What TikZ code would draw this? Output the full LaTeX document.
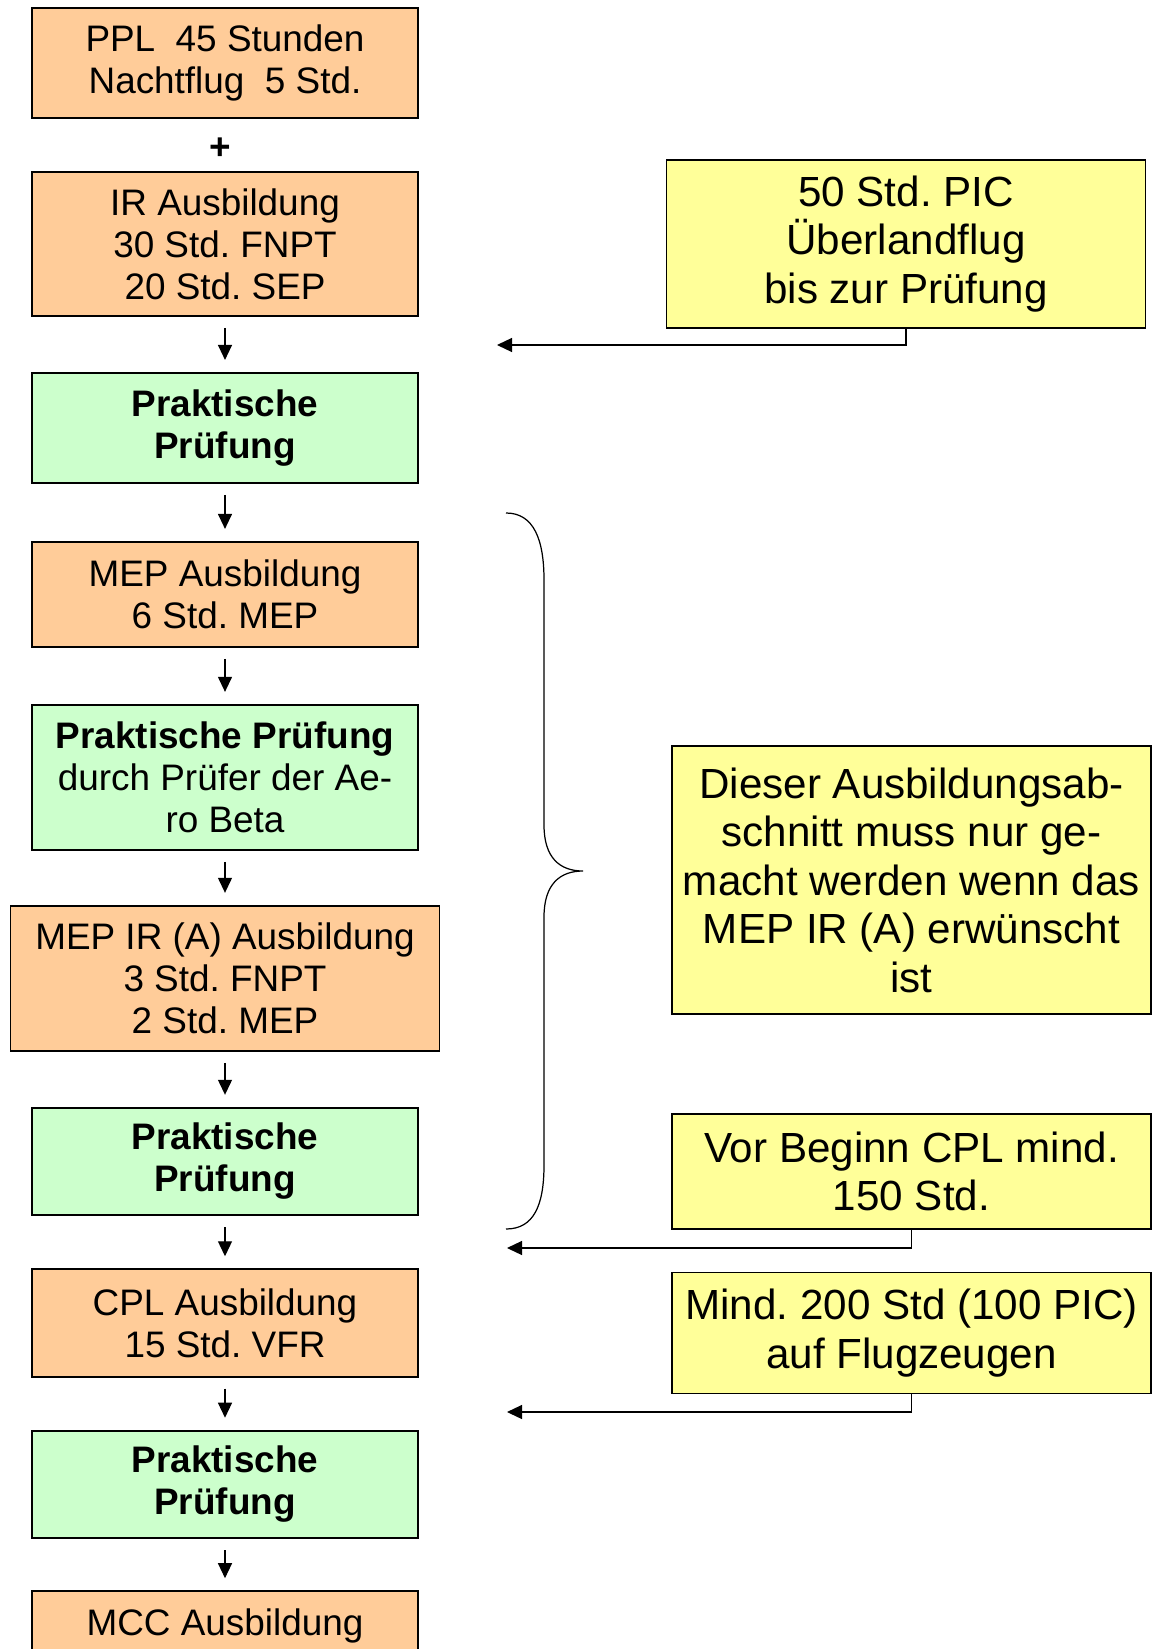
\documentclass[tikz,border=0pt]{standalone}
\usepackage{fontspec}
\setmainfont{Liberation Sans}
\usetikzlibrary{arrows.meta,positioning,calc}
\definecolor{trainfill}{RGB}{255,204,153}
\definecolor{examfill}{RGB}{204,255,204}
\definecolor{notefill}{RGB}{255,255,153}

\begin{document}
\frenchspacing
\begin{tikzpicture}[x=0.02cm, y=-0.02cm,
  box/.style={draw, line width=1pt, outer sep=0pt, align=center, minimum width=7.72cm, minimum height=2.15cm, inner sep=2pt, font=\fontsize{21}{23.9}\selectfont},
  train/.style={box, fill=trainfill},
  exam/.style={box, fill=examfill},
  note/.style={draw, line width=1pt, fill=notefill, align=center, minimum width=9.58cm, inner sep=2pt, font=\fontsize{24}{27.6}\selectfont},
  flow/.style={-{Triangle[length=0.3cm,width=0.28cm]}, line width=0.7pt},
  down/.style={flow, shorten <=0.24cm, shorten >=0.26cm}]
  \useasboundingbox (0,0) rectangle (1152,1649);
  % left column
  \node[train, minimum height=2.2cm, anchor=north] (ppl) at (225,8) {PPL~ 45 Stunden\\Nachtflug~ 5 Std.};
  \node[train, minimum height=2.88cm, below=1.08cm of ppl] (ir) {IR Ausbildung\\30 Std. FNPT\\20 Std. SEP};
  \node[exam, minimum height=2.2cm, below=1.14cm of ir] (pr1) {\textbf{Praktische}\\\textbf{Prüfung}};
  \node[train, minimum height=2.1cm, below=1.18cm of pr1] (mep) {MEP Ausbildung\\6 Std. MEP};
  \node[exam, minimum height=2.9cm, below=1.16cm of mep] (pr2) {\textbf{Praktische Prüfung}\\durch Prüfer der Ae-\\ro Beta};
  \node[train, minimum height=2.9cm, minimum width=8.58cm, below=1.12cm of pr2] (mepir) {MEP IR (A) Ausbildung\\3 Std. FNPT\\2 Std. MEP};
  \node[exam, below=1.14cm of mepir] (pr3) {\textbf{Praktische}\\\textbf{Prüfung}};
  \node[train, below=1.08cm of pr3] (cpl) {CPL Ausbildung\\15 Std. VFR};
  \node[exam, below=1.08cm of cpl] (pr4) {\textbf{Praktische}\\\textbf{Prüfung}};
  \node[train, minimum height=1.4cm, below=1.06cm of pr4] (mcc) {MCC Ausbildung};
  \node[font=\fontsize{21}{24}\selectfont\bfseries] (plus) at ($(ppl.south)!0.5!(ir.north)+(-5,4)$) {+};
  \draw[down] (ir) -- (pr1); \draw[down] (pr1) -- (mep); \draw[down] (mep) -- (pr2); \draw[down] (pr2) -- (mepir);
  \draw[down] (mepir) -- (pr3); \draw[down] (pr3) -- (cpl); \draw[down] (cpl) -- (pr4); \draw[down] (pr4) -- (mcc);
  % right column
  \node[note, minimum height=3.36cm] (pic) at (906,244) {50 Std. PIC\\Überlandflug\\bis zur Prüfung};
  \node[note, minimum height=5.36cm] (opt) at (911.5,880) {Dieser Ausbildungsab-\\schnitt muss nur ge-\\macht werden wenn das\\MEP IR (A) erwünscht\\ist};
  \node[note, minimum height=2.3cm] (vor) at (911.5,1171.5) {Vor Beginn CPL mind.\\150 Std.};
  \node[note, minimum height=2.42cm] (mind) at (911.5,1333) {Mind. 200 Std (100 PIC)\\auf Flugzeugen};
  \coordinate (picend) at (497,345);
  \coordinate (vorend) at (507,1248);
  \coordinate (mindend) at (507,1412);
  \draw[flow] (pic.south) |- (picend); \draw[flow] (vor.south) |- (vorend); \draw[flow] (mind.south) |- (mindend);
  % brace
  \draw[line width=0.7pt] (506,513) .. controls (534,513) and (544,540) .. (544,580) -- (544,825)
    .. controls (544,858) and (560,871) .. (583,871) .. controls (560,871) and (544,884) .. (544,917)
    -- (544,1165) .. controls (544,1205) and (534,1229) .. (506,1229);
\end{tikzpicture}
\end{document}
